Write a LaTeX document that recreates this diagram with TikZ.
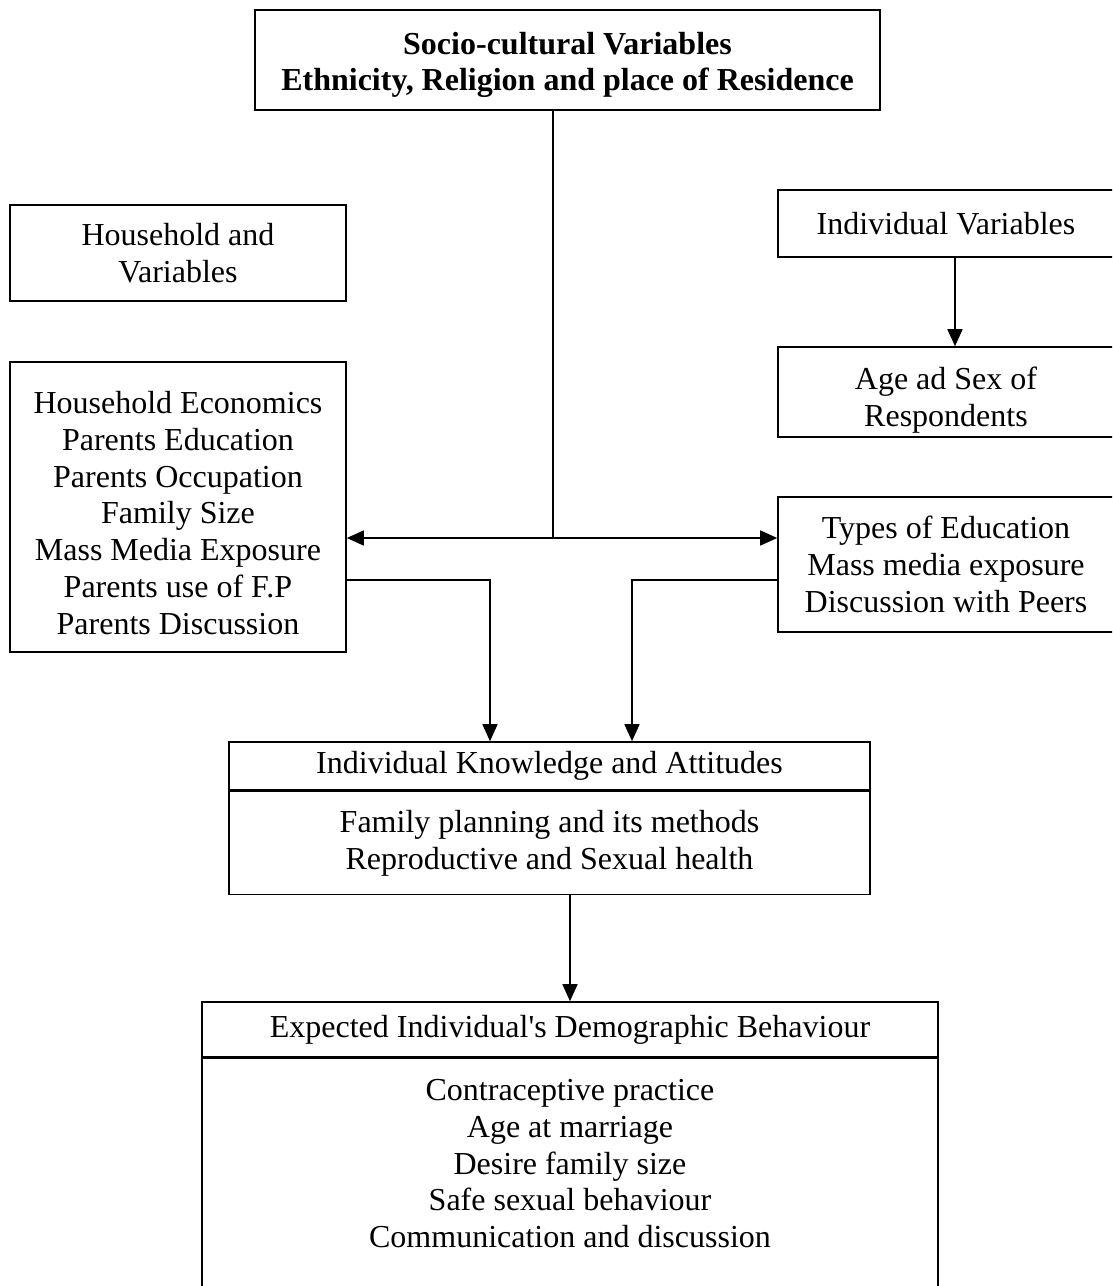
\documentclass[tikz,border=0pt]{standalone}
\usepackage{fontspec}
\setmainfont{Liberation Serif}
\usetikzlibrary{arrows.meta}
\begin{document}
\begin{tikzpicture}[x=1pt,y=-1pt,
  box/.style={draw, line width=1.6pt, inner sep=0pt, align=center, font=\fontsize{32}{36.8}\selectfont},
  txt/.style={inner sep=0pt, align=center, font=\fontsize{32}{36.8}\selectfont},
  boldtxt/.style={txt, font=\fontsize{32}{36.8}\selectfont\bfseries},
  conn/.style={line width=1.6pt},
  arr/.style={line width=1.6pt, -{Triangle[length=17pt,width=15pt]}}]
\useasboundingbox (0,0) rectangle (1112,1286);
\clip (0,0) rectangle (1112,1286);
\fill[white] (0,0) rectangle (1112,1286);

% top box
\node[box, minimum width=625pt, minimum height=100pt] (top) at (567.5,60) {};
\node[boldtxt] (toptxt) at (567.5,65)
  {Socio-cultural Variables\\Ethnicity, Religion and place of Residence};

% left boxes
\node[box, minimum width=336pt, minimum height=96pt] (hh) at (178,253)
  {Household and\\Variables};
\node[box, minimum width=336pt, minimum height=290pt] (lb) at (178,507) {};
\node[txt] (lbtxt) at (178,513)
  {Household Economics\\Parents Education\\Parents Occupation\\Family Size\\Mass Media Exposure\\Parents use of F.P\\Parents Discussion};

% right boxes
\node[box, minimum width=336pt, minimum height=67pt] (iv) at (946,223.5)
  {Individual Variables};
\node[box, minimum width=336pt, minimum height=90pt] (age) at (946,392) {};
\node[txt] (agetxt) at (946,400) {Age ad Sex of\\Respondents};
\node[box, minimum width=336pt, minimum height=135pt] (rb) at (946,564.5)
  {Types of Education\\Mass media exposure\\Discussion with Peers};

% knowledge box
\node[box, minimum width=641pt, minimum height=48pt] (kah) at (549.5,766)
  {Individual Knowledge and Attitudes};
\node[box, minimum width=641pt, minimum height=103pt, anchor=north] (kab) at (kah.south)
  {Family planning and its methods\\Reproductive and Sexual health};

% behaviour box
\node[box, minimum width=736pt, minimum height=55pt] (beh) at (570,1029.5)
  {Expected Individual\textquotesingle s Demographic Behaviour};
\node[box, minimum width=736pt, minimum height=250pt, anchor=north] (bbody) at (beh.south) {};
\node[txt, anchor=north] (btxt) at (570,1079)
  {Contraceptive practice\\Age at marriage\\Desire family size\\Safe sexual behaviour\\Communication and discussion};

% connectors
\coordinate (j) at (553,538);
\draw[conn] (top.south -| j) -- (j);
\draw[arr] (j) -- (lb.east |- j);
\draw[arr] (j) -- (rb.west |- j);
\draw[arr] (iv.south -| 955,0) -- (age.north -| 955,0);

\coordinate (lc) at (490,580);
\coordinate (rc) at (632,580);
\draw[arr] (lb.east |- lc) -- (lc) -- (kah.north -| lc);
\draw[arr] (rb.west |- rc) -- (rc) -- (kah.north -| rc);

\coordinate (kd) at (570,0);
\draw[arr] (kab.south -| kd) -- (beh.north -| kd);
\end{tikzpicture}
\end{document}
